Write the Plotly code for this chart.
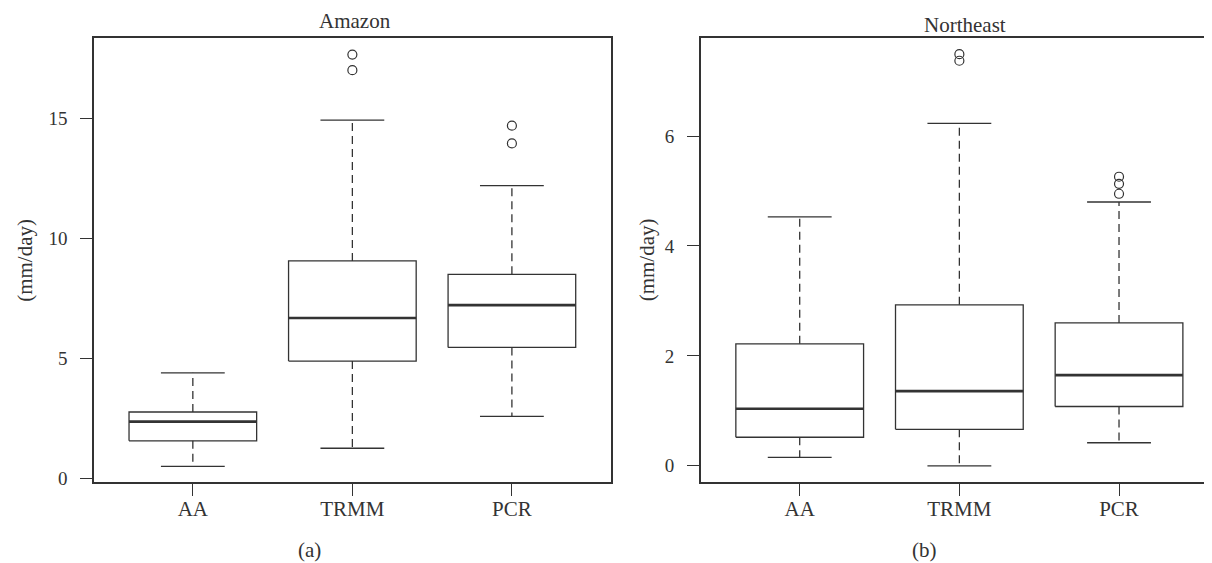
import plotly.graph_objects as go

categories = ["AA", "TRMM", "PCR"]

# Amazon (panel a)
amz_low = [0.52, 1.27, 2.60]
amz_q1 = [1.58, 4.90, 5.47]
amz_med = [2.38, 6.69, 7.23]
amz_q3 = [2.78, 9.07, 8.51]
amz_high = [4.41, 14.93, 12.20]
amz_out = [[], [17.66, 17.01], [14.70, 13.96]]

# Northeast (panel b)
ne_low = [0.155, 0.0, 0.42]
ne_q1 = [0.52, 0.665, 1.08]
ne_med = [1.04, 1.36, 1.65]
ne_q3 = [2.22, 2.93, 2.60]
ne_high = [4.53, 6.23, 4.80]
ne_out = [[], [7.49, 7.37], [5.26, 5.13, 4.95]]

amz_ticks = [0, 5, 10, 15]
ne_ticks = [0, 2, 4, 6]

W, H = 1212, 563
LC = "#333333"
FONT = "Liberation Serif"

fig = go.Figure()


def add_panel(xa, ya, low, q1, med, q3, high, outs):
    bx, by, mx, my, wx, wy, cx, cy, ox, oy = [], [], [], [], [], [], [], [], [], []
    for i in range(len(categories)):
        p = i + 1
        bx += [p - 0.4, p + 0.4, p + 0.4, p - 0.4, p - 0.4, None]
        by += [q1[i], q1[i], q3[i], q3[i], q1[i], None]
        mx += [p - 0.4, p + 0.4, None]
        my += [med[i], med[i], None]
        wx += [p, p, None, p, p, None]
        wy += [q3[i], high[i], None, q1[i], low[i], None]
        cx += [p - 0.2, p + 0.2, None, p - 0.2, p + 0.2, None]
        cy += [high[i], high[i], None, low[i], low[i], None]
        for v in outs[i]:
            ox.append(p)
            oy.append(v)
    common = dict(xaxis=xa, yaxis=ya, showlegend=False, hoverinfo="skip")
    fig.add_trace(go.Scatter(x=wx, y=wy, mode="lines",
                             line=dict(color=LC, width=1.3, dash="8px,5px"), **common))
    fig.add_trace(go.Scatter(x=cx, y=cy, mode="lines",
                             line=dict(color=LC, width=1.3), **common))
    fig.add_trace(go.Scatter(x=bx, y=by, mode="lines",
                             line=dict(color=LC, width=1.3), **common))
    fig.add_trace(go.Scatter(x=mx, y=my, mode="lines",
                             line=dict(color=LC, width=2.6), **common))
    fig.add_trace(go.Scatter(x=ox, y=oy, mode="markers",
                             marker=dict(symbol="circle-open", size=9,
                                         color=LC, line=dict(width=1.2, color=LC)),
                             **common))


add_panel("x", "y", amz_low, amz_q1, amz_med, amz_q3, amz_high, amz_out)
add_panel("x2", "y2", ne_low, ne_q1, ne_med, ne_q3, ne_high, ne_out)

ydom = [1 - 480.3 / H, 1 - 30.6 / H]
xcommon = dict(range=[0.38, 3.62], tickvals=[1, 2, 3], ticktext=categories,
               ticks="outside", ticklen=12, tickwidth=1.3, tickcolor=LC,
               showline=True, linecolor=LC, linewidth=1.5, mirror=True,
               showgrid=False, zeroline=False, fixedrange=True,
               tickfont=dict(family=FONT, size=21, color=LC),
               ticklabelstandoff=-5)
ycommon = dict(ticks="outside", ticklen=12, tickwidth=1.3, tickcolor=LC,
               showline=True, linecolor=LC, linewidth=1.5, mirror=True,
               showgrid=False, zeroline=False, fixedrange=True,
               tickfont=dict(family=FONT, size=19, color=LC),
               ticklabelstandoff=9, domain=ydom)

fig.update_layout(
    width=W, height=H,
    margin=dict(l=0, r=0, t=0, b=0),
    paper_bgcolor="white", plot_bgcolor="white",
    xaxis=dict(domain=[86 / W, 603.3 / W], anchor="y", **xcommon),
    xaxis2=dict(domain=[693.3 / W, 1211.0 / W], anchor="y2", **xcommon),
    yaxis=dict(range=[-0.148, 18.34], tickvals=amz_ticks, anchor="x", **ycommon),
    yaxis2=dict(range=[-0.30, 7.78], tickvals=ne_ticks, anchor="x2", **ycommon),
)

ann_font = dict(family=FONT, size=21, color=LC)
annotations = [
    dict(text="Amazon", x=346.8 / W, y=1 - 13.5 / H),
    dict(text="Northeast", x=958 / W, y=1 - 17.5 / H),
    dict(text="(a)", x=302 / W, y=1 - 549 / H),
    dict(text="(b)", x=917 / W, y=1 - 549 / H),
    dict(text="(mm/day)", x=17 / W, y=1 - 255 / H, textangle=-90),
    dict(text="(mm/day)", x=639 / W, y=1 - 255 / H, textangle=-90),
]
for a in annotations:
    a.update(xref="paper", yref="paper", xanchor="center", yanchor="middle",
             showarrow=False, font=ann_font)
fig.update_layout(annotations=annotations)

fig.write_html("out.html")
